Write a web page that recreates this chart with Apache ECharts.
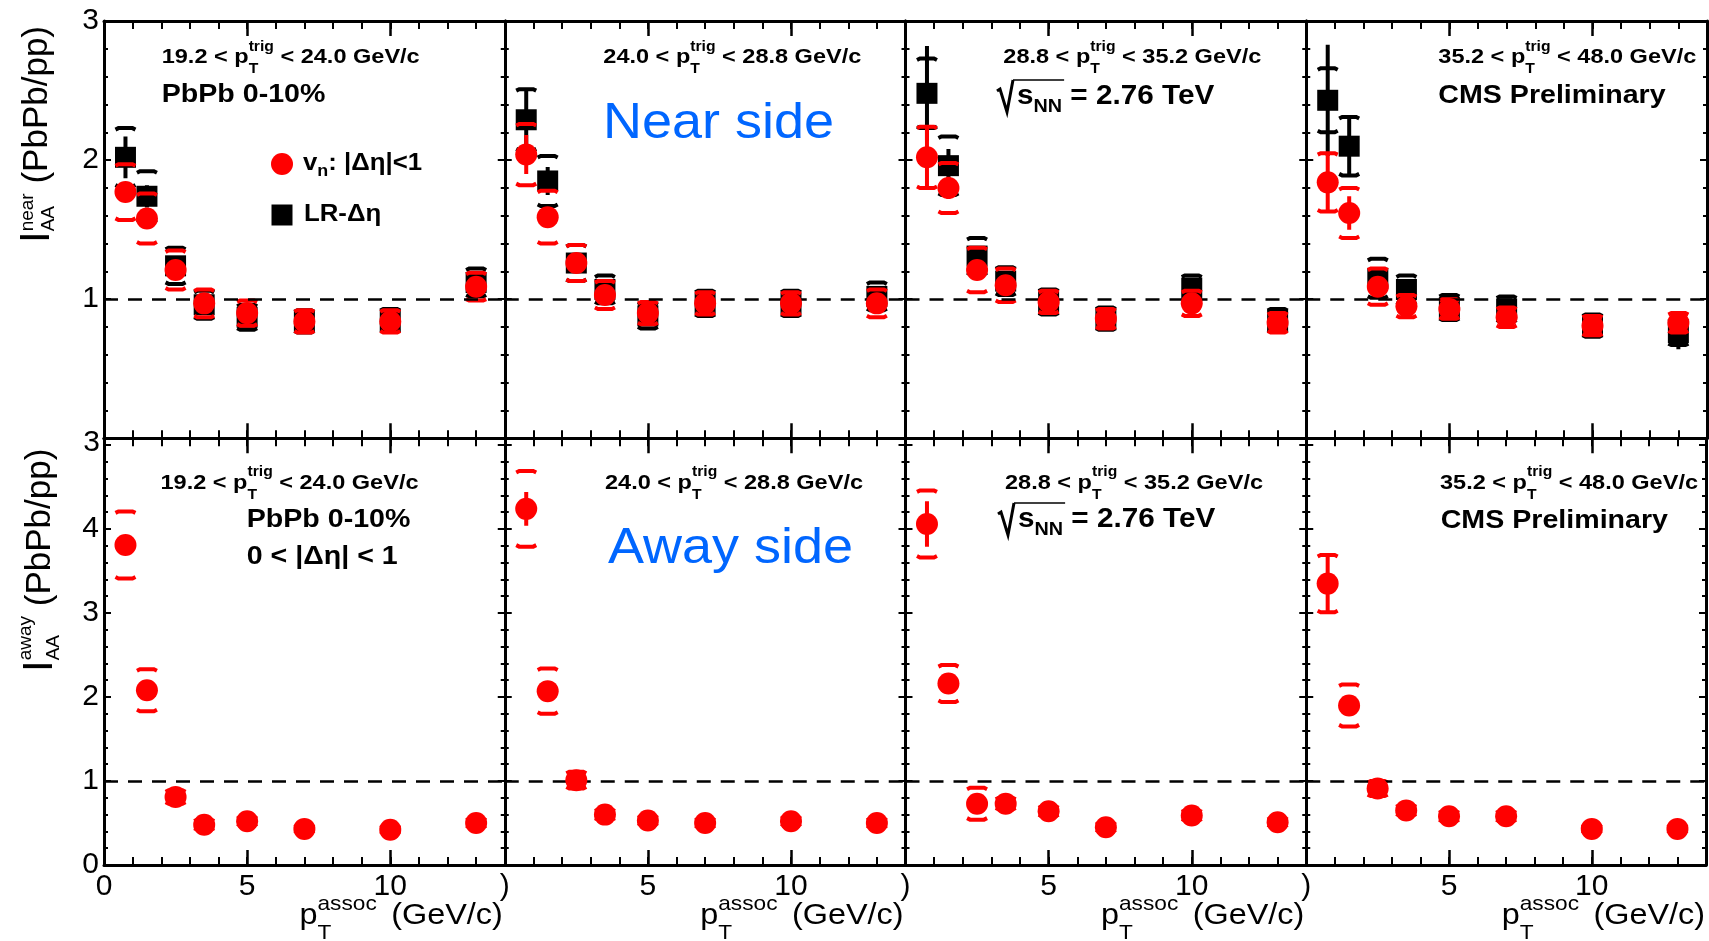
<!DOCTYPE html>
<html>
<head>
<meta charset="utf-8">
<title>I_AA near and away side, PbPb 0-10%</title>
<script src="https://cdn.jsdelivr.net/npm/echarts@6/dist/echarts.min.js"></script>
<style>
  html, body { margin: 0; padding: 0; background: #fff; }
  #chart { width: 1709px; height: 941px; }
</style>
</head>
<body>
<div id="chart"></div>
<script>
// ---------------- data ----------------
// associated-particle pT bin centres (GeV/c)
const pTassoc = [0.75, 1.5, 2.5, 3.5, 5, 7, 10, 13];
// trigger pT bin edges (GeV/c), one panel per bin
const trigEdges = ['19.2', '24.0', '28.8', '35.2', '48.0'];

// near side, v_n background with |Δη|<1 (one row per trigger bin)
const nearVn = [
  [1.77, 1.58, 1.21, 0.97, 0.90, 0.84, 0.84, 1.09],
  [2.04, 1.59, 1.26, 1.03, 0.90, 0.97, 0.97, 0.97],
  [2.02, 1.80, 1.21, 1.10, 0.98, 0.86, 0.97, 0.83],
  [1.84, 1.62, 1.09, 0.95, 0.93, 0.87, 0.81, 0.83]
];
const nearVnStat = [
  [0.07, 0.06, 0.04, 0.03, 0.03, 0.03, 0.03, 0.05],
  [0.14, 0.07, 0.04, 0.03, 0.03, 0.03, 0.04, 0.05],
  [0.22, 0.08, 0.05, 0.04, 0.03, 0.03, 0.04, 0.05],
  [0.21, 0.12, 0.05, 0.04, 0.04, 0.04, 0.04, 0.05]
];
const nearVnSys = [
  [0.20, 0.18, 0.14, 0.10, 0.09, 0.08, 0.08, 0.10],
  [0.22, 0.19, 0.13, 0.10, 0.08, 0.08, 0.08, 0.10],
  [0.22, 0.18, 0.16, 0.12, 0.08, 0.07, 0.09, 0.07],
  [0.21, 0.18, 0.13, 0.08, 0.07, 0.07, 0.07, 0.07]
];

// near side, long-range Δη background
const nearLR = [
  [2.02, 1.74, 1.24, 0.96, 0.87, 0.84, 0.85, 1.12],
  [2.29, 1.85, 1.26, 1.07, 0.88, 0.97, 0.97, 1.02],
  [2.48, 1.96, 1.31, 1.13, 0.98, 0.86, 1.08, 0.85],
  [2.43, 2.10, 1.15, 1.07, 0.94, 0.93, 0.81, 0.76]
];
const nearLRStat = [
  [0.15, 0.08, 0.04, 0.03, 0.04, 0.03, 0.03, 0.05],
  [0.22, 0.10, 0.04, 0.03, 0.04, 0.03, 0.04, 0.05],
  [0.34, 0.12, 0.05, 0.04, 0.03, 0.03, 0.04, 0.05],
  [0.40, 0.21, 0.06, 0.05, 0.04, 0.04, 0.04, 0.12]
];
const nearLRSys = [
  [0.21, 0.18, 0.13, 0.10, 0.09, 0.08, 0.08, 0.10],
  [0.22, 0.18, 0.13, 0.10, 0.09, 0.09, 0.09, 0.10],
  [0.25, 0.21, 0.13, 0.10, 0.09, 0.08, 0.09, 0.08],
  [0.23, 0.21, 0.14, 0.10, 0.09, 0.09, 0.08, 0.09]
];

// away side, 0 < |Δη| < 1
const awayVn = [
  [3.81, 2.08, 0.81, 0.48, 0.52, 0.43, 0.42, 0.50],
  [4.24, 2.07, 1.01, 0.60, 0.53, 0.50, 0.52, 0.50],
  [4.06, 2.16, 0.73, 0.73, 0.64, 0.45, 0.59, 0.51],
  [3.35, 1.90, 0.91, 0.65, 0.58, 0.58, 0.43, 0.43]
];
const awayVnStat = [
  [0.08, 0.06, 0.04, 0.03, 0.03, 0.03, 0.04, 0.05],
  [0.20, 0.08, 0.06, 0.03, 0.03, 0.03, 0.04, 0.05],
  [0.27, 0.08, 0.06, 0.04, 0.04, 0.04, 0.05, 0.06],
  [0.34, 0.09, 0.06, 0.04, 0.04, 0.05, 0.05, 0.06]
];
const awayVnSys = [
  [0.40, 0.25, 0.08, 0.06, 0.05, 0.04, 0.04, 0.05],
  [0.45, 0.27, 0.10, 0.06, 0.05, 0.05, 0.05, 0.05],
  [0.40, 0.22, 0.19, 0.07, 0.06, 0.05, 0.06, 0.05],
  [0.34, 0.25, 0.09, 0.06, 0.06, 0.06, 0.04, 0.04]
];

// axis ranges and ticks
const xRange = [0, 14];
const xMajor = 5, xMinor = 1;
const yRange = [[0, 3], [0, 5.08]];
const yMajor = 1, yMinor = 0.2;

// ---------------- layout ----------------
const PANEL_L = 104, PANEL_W = 400.75;
const ROW_TOP = [21, 438.3];
const ROW_H = [417.3, 426.7];
const FONT = '"Liberation Sans", Arial, Helvetica, sans-serif';
const RED = '#ff0000', BLACK = '#000000', BLUE = '#0066ff';

const measureCtx = document.createElement('canvas').getContext('2d');
function fontStr(size, bold) { return (bold ? 'bold ' : '') + size + 'px ' + FONT; }
function measure(t, size, bold) { measureCtx.font = fontStr(size, bold); return measureCtx.measureText(t).width; }

function txt(t, x, y, size, bold, color) {
  return {
    type: 'text', x: x, y: y, silent: true,
    style: { text: t, font: fontStr(size, bold), fill: color || BLACK, align: 'left', verticalAlign: 'middle' }
  };
}

// Lays out a run of text with stacked super/subscripts.
// segs: [text, kind, size?]; kind '' = normal, '^' = superscript, '_' = subscript
function richRun(segs, o) {
  const size = o.size, bold = !!o.bold, ss = o.scriptSize || Math.round(size * 0.68);
  const supDy = o.supDy != null ? o.supDy : -0.5 * size;
  const subDy = o.subDy != null ? o.subDy : 0.6 * size;
  const kids = [];
  let x = 0, i = 0;
  while (i < segs.length) {
    if (!segs[i][1]) {
      const s = segs[i][2] || size;
      kids.push(txt(segs[i][0], x, 0, s, bold, o.color));
      x += measure(segs[i][0], s, bold);
      i++;
    } else {
      let w = 0;
      while (i < segs.length && segs[i][1]) {
        const t = segs[i][0];
        kids.push(txt(t, x, segs[i][1] === '^' ? supDy : subDy, ss, bold, o.color));
        w = Math.max(w, measure(t, ss, bold));
        i++;
      }
      x += w + (o.scriptGap || 0);
    }
  }
  let ox = 0;
  if (o.align === 'right') ox = -x; else if (o.align === 'center') ox = -x / 2;
  kids.forEach(k => { k.x += ox; });
  return {
    type: 'group', x: o.x, y: o.y, rotation: o.rotation || 0,
    scaleX: o.scaleX || 1, scaleY: o.scaleY || 1, silent: true, children: kids
  };
}

// √s_NN label: hand-drawn radical with overline, then the text
function sqrtLabel(x0, cy) {
  const size = 27, sc = 1.1;
  const tx = x0 + 20;
  const wS = (measure('s', size, true) + measure('NN', 18, true)) * sc;
  return {
    type: 'group', silent: true, children: [
      { type: 'polyline', silent: true, shape: { points: [[x0, cy - 6], [x0 + 3, cy - 8], [x0 + 10, cy + 15], [x0 + 16, cy - 17]] },
        style: { stroke: BLACK, lineWidth: 3, fill: null, lineJoin: 'miter' } },
      { type: 'line', silent: true, shape: { x1: x0 + 16, y1: cy - 17, x2: tx + wS + 2, y2: cy - 17 },
        style: { stroke: BLACK, lineWidth: 1.5 } },
      richRun([['s', ''], ['NN', '_'], [' = 2.76 TeV', '']],
        { x: tx, y: cy, size: size, bold: true, scriptSize: 18, subDy: 10, scaleX: sc })
    ]
  };
}

function trigLabel(c, x, y) {
  return richRun([[trigEdges[c] + ' < p', ''], ['trig', '^'], ['T', '_'], [' < ' + trigEdges[c + 1] + ' GeV/c', '']],
    { x: x, y: y, size: 21, bold: true, scriptSize: 14, supDy: -10.5, subDy: 12, scaleX: 1.12 });
}

// error bars: vertical statistical bar plus bracket-shaped systematic caps
function errorBars(color) {
  return function (params, api) {
    const x = api.value(0), y = api.value(1), st = api.value(2), sy = api.value(3);
    const p = api.coord([x, y]);
    const s1 = api.coord([x, y + st])[1], s2 = api.coord([x, y - st])[1];
    const u = api.coord([x, y + sy])[1], d = api.coord([x, y - sy])[1];
    const hw = 10, bend = 1.5;
    const capStyle = { stroke: color, lineWidth: 4, fill: null };
    return {
      type: 'group', children: [
        { type: 'line', shape: { x1: p[0], y1: s1, x2: p[0], y2: s2 }, style: { stroke: color, lineWidth: 4 } },
        { type: 'polyline', shape: { points: [[p[0] - hw, u + bend], [p[0] - hw + 3, u], [p[0] + hw - 3, u], [p[0] + hw, u + bend]] }, style: capStyle },
        { type: 'polyline', shape: { points: [[p[0] - hw, d - bend], [p[0] - hw + 3, d], [p[0] + hw - 3, d], [p[0] + hw, d - bend]] }, style: capStyle }
      ]
    };
  };
}

function points(vals, stat, sys) {
  return pTassoc.map((x, i) => [x, vals[i], stat[i], sys[i]]);
}

// ---------------- option ----------------
const grid = [], xAxis = [], yAxis = [], series = [];

for (let r = 0; r < 2; r++) {
  for (let c = 0; c < 4; c++) {
    const g = r * 4 + c;
    grid.push({ left: PANEL_L + c * PANEL_W, top: ROW_TOP[r], width: PANEL_W, height: ROW_H[r], show: false });

    const xAx = (pos, major) => ({
      type: 'value', gridIndex: g, position: pos, min: xRange[0], max: xRange[1],
      interval: major ? xMajor : xMinor,
      axisLine: { show: major, onZero: false, lineStyle: { color: BLACK, width: 3 } },
      axisTick: { show: true, inside: true, length: major ? 15 : 8, lineStyle: { color: BLACK, width: major ? 2.5 : 2 } },
      axisLabel: {
        show: major && pos === 'bottom' && r === 1, margin: 7, fontSize: 30, fontFamily: FONT, color: BLACK,
        formatter: v => (v === 0 ? (c === 0 ? '0' : ')') : (v % 5 === 0 && v < xRange[1] ? String(v) : ''))
      },
      splitLine: { show: false }, minorTick: { show: false }
    });
    xAxis.push(xAx('bottom', true), xAx('bottom', false), xAx('top', true), xAx('top', false));

    const yAx = (pos, major) => ({
      type: 'value', gridIndex: g, position: pos, min: yRange[r][0], max: yRange[r][1],
      interval: major ? yMajor : yMinor,
      axisLine: { show: major, onZero: false, lineStyle: { color: BLACK, width: 3 } },
      axisTick: { show: true, inside: true, length: major ? 7 : 4, lineStyle: { color: BLACK, width: 2 } },
      axisLabel: {
        show: major && pos === 'left' && c === 0, margin: 5, fontSize: 30, fontFamily: FONT, color: BLACK,
        formatter: v => (Math.abs(v - Math.round(v)) < 1e-6 && v > 0 && v <= (r === 0 ? 3 : 4)) || (v === 0 && r === 1) ? String(Math.round(v)) : ''
      },
      splitLine: { show: false }, minorTick: { show: false }
    });
    yAxis.push(yAx('left', true), yAx('left', false), yAx('right', true), yAx('right', false));

    const ax = { xAxisIndex: 4 * g, yAxisIndex: 4 * g };
    const main = r === 0 ? nearVn[c] : awayVn[c];

    // reference line at I_AA = 1
    series.push(Object.assign({
      type: 'line', data: pTassoc.map((x, i) => [x, main[i]]), showSymbol: false, silent: true, z: 1,
      lineStyle: { width: 0, opacity: 0 },
      markLine: {
        silent: true, symbol: ['none', 'none'], label: { show: false }, animation: false,
        lineStyle: { color: BLACK, type: [14, 10], width: 2.5 }, data: [{ yAxis: 1 }]
      }
    }, ax));

    if (r === 0) {
      series.push(Object.assign({
        name: 'LR-Δη errors', type: 'custom', renderItem: errorBars(BLACK), clip: true, silent: true, z: 2,
        encode: { x: 0, y: 1 }, data: points(nearLR[c], nearLRStat[c], nearLRSys[c])
      }, ax));
      series.push(Object.assign({
        name: 'LR-Δη', type: 'scatter', symbol: 'rect', symbolSize: 21, silent: true, z: 3,
        itemStyle: { color: BLACK, opacity: 1 }, data: pTassoc.map((x, i) => [x, nearLR[c][i]])
      }, ax));
      series.push(Object.assign({
        name: 'vn errors', type: 'custom', renderItem: errorBars(RED), clip: true, silent: true, z: 4,
        encode: { x: 0, y: 1 }, data: points(nearVn[c], nearVnStat[c], nearVnSys[c])
      }, ax));
    } else {
      series.push(Object.assign({
        name: 'vn errors', type: 'custom', renderItem: errorBars(RED), clip: true, silent: true, z: 4,
        encode: { x: 0, y: 1 }, data: points(awayVn[c], awayVnStat[c], awayVnSys[c])
      }, ax));
    }
    series.push(Object.assign({
      name: 'vn', type: 'scatter', symbol: 'circle', symbolSize: 22, silent: true, z: 5,
      itemStyle: { color: RED, opacity: 1 }, data: pTassoc.map((x, i) => [x, main[i]])
    }, ax));
  }
}

// ---------------- annotations ----------------
const panelRight = c => PANEL_L + (c + 1) * PANEL_W;
const elements = [];

// trigger-bin labels
const trigX = [[161.7, 603.3, 1003.3, 1438.3], [160.5, 605, 1005, 1440]];
const trigY = [57.5, 483];
for (let r = 0; r < 2; r++) for (let c = 0; c < 4; c++) elements.push(trigLabel(c, trigX[r][c], trigY[r]));

// near side texts
elements.push(richRun([['PbPb 0-10%', '']], { x: 161.7, y: 95, size: 26, bold: true, scaleX: 1.1 }));
elements.push(sqrtLabel(997, 97));
elements.push(richRun([['CMS Preliminary', '']], { x: 1438.3, y: 96, size: 26, bold: true, scaleX: 1.1 }));
elements.push(richRun([['Near side', '']], { x: 603, y: 124, size: 50, color: BLUE, scaleX: 1.08 }));

// away side texts
elements.push(richRun([['PbPb 0-10%', '']], { x: 246.7, y: 520, size: 26, bold: true, scaleX: 1.1 }));
elements.push(richRun([['0 < |Δη| < 1', '']], { x: 246.7, y: 557, size: 26, bold: true, scaleX: 1.1 }));
elements.push(sqrtLabel(998, 520));
elements.push(richRun([['CMS Preliminary', '']], { x: 1440.7, y: 521, size: 26, bold: true, scaleX: 1.1 }));
elements.push(richRun([['Away side', '']], { x: 608, y: 549, size: 50, color: BLUE, scaleX: 1.08 }));

// legend
elements.push({ type: 'circle', silent: true, shape: { cx: 282, cy: 164, r: 11 }, style: { fill: RED } });
elements.push({ type: 'rect', silent: true, shape: { x: 271.5, y: 204.5, width: 21, height: 21 }, style: { fill: BLACK } });
elements.push(richRun([['v', ''], ['n', '_'], [': |Δη|<1', '']], { x: 303, y: 164, size: 23, bold: true, scriptSize: 16, subDy: 8, scaleX: 1.12 }));
elements.push(richRun([['LR-Δη', '']], { x: 304, y: 215, size: 23, bold: true, scaleX: 1.12 }));

// axis titles
for (let c = 0; c < 4; c++) {
  elements.push(richRun([['p', ''], ['assoc', '^'], ['T', '_'], [' (GeV/c)', '']],
    { x: panelRight(c) - 2, y: 916, align: 'right', size: 30, scriptSize: 21, supDy: -12, subDy: 17, scriptGap: 5, scaleX: 1.08 }));
}
elements.push(richRun([['I', '', 42], ['near', '^'], ['AA', '_'], [' (PbPb/pp)', '']],
  { x: 37, y: 243, rotation: Math.PI / 2, size: 35, scriptSize: 19, supDy: -9, subDy: 12 }));
elements.push(richRun([['I', '', 42], ['away', '^'], ['AA', '_'], [' (PbPb/pp)', '']],
  { x: 40, y: 672, rotation: Math.PI / 2, size: 35, scriptSize: 19, supDy: -14, subDy: 14 }));

// label at the join of the two rows
elements.push({ type: 'text', silent: true, x: 100, y: 443,
  style: { text: '3', font: fontStr(30, false), fill: BLACK, align: 'right', verticalAlign: 'middle' } });

const chart = echarts.init(document.getElementById('chart'), null, { renderer: 'canvas' });
chart.setOption({
  backgroundColor: '#ffffff',
  animation: false,
  grid: grid,
  xAxis: xAxis,
  yAxis: yAxis,
  series: series,
  graphic: { elements: elements }
});
</script>
</body>
</html>
